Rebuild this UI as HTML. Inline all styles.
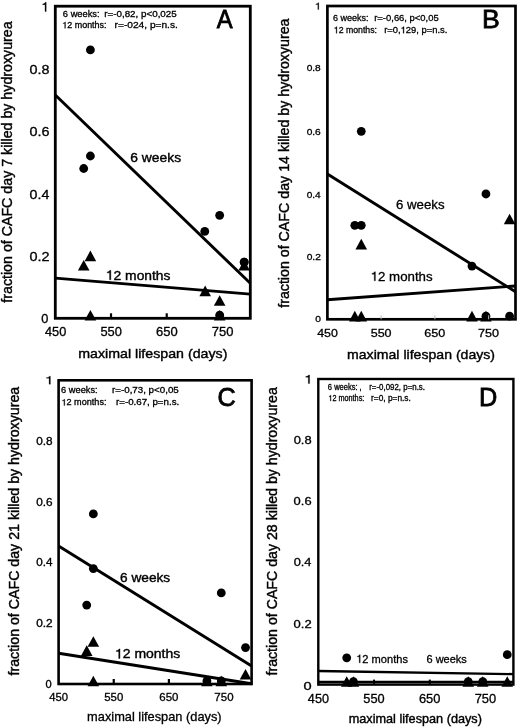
<!DOCTYPE html>
<html><head><meta charset="utf-8"><style>
html,body{margin:0;padding:0;background:#fff;}
svg{display:block;}
text{font-family:"Liberation Sans", sans-serif;fill:#000;stroke:#000;}
svg{filter:grayscale(1);}
</style></head><body>
<svg width="520" height="728" viewBox="0 0 520 728">
<rect width="520" height="728" fill="#fff"/>
<circle cx="90.40" cy="49.89" r="4.4"/>
<circle cx="90.40" cy="156.01" r="4.4"/>
<circle cx="83.71" cy="168.49" r="4.4"/>
<circle cx="204.78" cy="231.38" r="4.4"/>
<circle cx="219.66" cy="215.31" r="4.4"/>
<circle cx="244.17" cy="262.12" r="4.4"/>
<circle cx="219.66" cy="315.18" r="4.4"/>
<polygon points="84.60,261.18 96.20,261.18 90.40,250.58"/>
<polygon points="77.91,270.54 89.51,270.54 83.71,259.94"/>
<polygon points="84.60,320.48 96.20,320.48 90.40,309.88"/>
<polygon points="199.37,296.14 210.97,296.14 205.17,285.54"/>
<polygon points="213.86,305.81 225.46,305.81 219.66,295.21"/>
<polygon points="238.37,270.54 249.97,270.54 244.17,259.94"/>
<polygon points="213.86,320.48 225.46,320.48 219.66,309.88"/>
<circle cx="244.17" cy="262.12" r="4.4"/>
<line x1="55.30" y1="95.00" x2="250.30" y2="283.30" stroke="#000" stroke-width="2.9"/>
<line x1="55.30" y1="278.10" x2="250.30" y2="294.10" stroke="#000" stroke-width="2.9"/>
<rect x="55.30" y="6.20" width="195.00" height="312.10" fill="none" stroke="#000" stroke-width="2.8"/>
<line x1="111.01" y1="318.30" x2="111.01" y2="313.30" stroke="#000" stroke-width="2.2"/>
<line x1="166.73" y1="318.30" x2="166.73" y2="313.30" stroke="#000" stroke-width="2.2"/>
<line x1="222.44" y1="318.30" x2="222.44" y2="313.30" stroke="#000" stroke-width="2.2"/>
<text x="62.88" y="16.85" font-size="9.18" textLength="36.72" lengthAdjust="spacingAndGlyphs" stroke-width="0.3">6 weeks:</text>
<text x="104.20" y="16.85" font-size="9.18" textLength="72.56" lengthAdjust="spacingAndGlyphs" stroke-width="0.3">r=-0,82, p&lt;0,025</text>
<text x="62.27" y="28.35" font-size="9.18" textLength="44.30" lengthAdjust="spacingAndGlyphs" stroke-width="0.3"> 2 months:</text>
<path d="M271 0 L359 0 L359 703 L290 703 C276 640 222 590 101 580 L101 517 L271 517 Z" transform="translate(62.27,28.35) scale(0.00895,-0.00918)" stroke="#000" stroke-width="0.3" vector-effect="non-scaling-stroke"/>
<text x="114.57" y="28.35" font-size="9.18" textLength="63.30" lengthAdjust="spacingAndGlyphs" stroke-width="0.3">r=-024, p=n.s.</text>
<text x="216.85" y="28.40" font-size="25.89" textLength="15.89" lengthAdjust="spacingAndGlyphs" stroke-width="0.8">A</text>
<text x="130.30" y="161.90" font-size="13.44" textLength="50.80" lengthAdjust="spacingAndGlyphs" stroke-width="0.4">6 weeks</text>
<text x="105.85" y="279.80" font-size="13.44" textLength="64.66" lengthAdjust="spacingAndGlyphs" stroke-width="0.4"> 2 months</text>
<path d="M271 0 L359 0 L359 703 L290 703 C276 640 222 590 101 580 L101 517 L271 517 Z" transform="translate(105.85,279.80) scale(0.01385,-0.01344)" stroke="#000" stroke-width="0.4" vector-effect="non-scaling-stroke"/>
<path d="M271 0 L359 0 L359 703 L290 703 C276 640 222 590 101 580 L101 517 L271 517 Z" transform="translate(41.33,11.50) scale(0.01357,-0.01309)" stroke="#000" stroke-width="0.3" vector-effect="non-scaling-stroke"/>
<text x="29.59" y="73.57" font-size="12.58" textLength="19.99" lengthAdjust="spacingAndGlyphs" stroke-width="0.3">0.8</text>
<text x="29.59" y="135.99" font-size="12.58" textLength="19.99" lengthAdjust="spacingAndGlyphs" stroke-width="0.3">0.6</text>
<text x="29.59" y="199.11" font-size="12.58" textLength="19.77" lengthAdjust="spacingAndGlyphs" stroke-width="0.3">0.4</text>
<text x="29.59" y="260.83" font-size="12.58" textLength="20.09" lengthAdjust="spacingAndGlyphs" stroke-width="0.3">0.2</text>
<text x="41.35" y="323.15" font-size="12.58" textLength="7.10" lengthAdjust="spacingAndGlyphs" stroke-width="0.3">0</text>
<text x="44.96" y="336.15" font-size="12.58" textLength="21.29" lengthAdjust="spacingAndGlyphs" stroke-width="0.3">450</text>
<text x="100.45" y="336.15" font-size="12.58" textLength="21.52" lengthAdjust="spacingAndGlyphs" stroke-width="0.3">550</text>
<text x="156.02" y="336.15" font-size="12.58" textLength="21.67" lengthAdjust="spacingAndGlyphs" stroke-width="0.3">650</text>
<text x="211.73" y="336.15" font-size="12.58" textLength="21.67" lengthAdjust="spacingAndGlyphs" stroke-width="0.3">750</text>
<text x="78.26" y="358.30" font-size="13.64" textLength="149.12" lengthAdjust="spacingAndGlyphs" stroke-width="0.4">maximal lifespan (days)</text>
<text transform="translate(11.90,0) rotate(-90)" x="-302.70" y="0" font-size="14.2" textLength="281.30" lengthAdjust="spacingAndGlyphs" stroke-width="0.4">fraction of CAFC day 7 killed by hydroxyurea</text>
<circle cx="361.26" cy="131.32" r="4.4"/>
<circle cx="354.81" cy="225.31" r="4.4"/>
<circle cx="361.26" cy="225.31" r="4.4"/>
<circle cx="471.97" cy="266.04" r="4.4"/>
<circle cx="485.94" cy="193.98" r="4.4"/>
<circle cx="485.94" cy="316.17" r="4.4"/>
<circle cx="509.59" cy="316.17" r="4.4"/>
<polygon points="355.46,249.41 367.06,249.41 361.26,238.81"/>
<polygon points="349.01,321.47 360.61,321.47 354.81,310.87"/>
<polygon points="355.46,321.47 367.06,321.47 361.26,310.87"/>
<polygon points="466.17,321.47 477.77,321.47 471.97,310.87"/>
<polygon points="480.14,321.47 491.74,321.47 485.94,310.87"/>
<polygon points="503.79,224.34 515.39,224.34 509.59,213.74"/>
<line x1="327.40" y1="174.10" x2="515.50" y2="291.80" stroke="#000" stroke-width="2.9"/>
<line x1="327.40" y1="299.80" x2="515.50" y2="286.00" stroke="#000" stroke-width="2.9"/>
<rect x="327.40" y="6.00" width="188.10" height="313.30" fill="none" stroke="#000" stroke-width="2.7"/>
<line x1="381.14" y1="319.30" x2="381.14" y2="315.30" stroke="#bbb" stroke-width="1"/>
<line x1="434.89" y1="319.30" x2="434.89" y2="315.30" stroke="#bbb" stroke-width="1"/>
<line x1="488.63" y1="319.30" x2="488.63" y2="315.30" stroke="#bbb" stroke-width="1"/>
<text x="332.89" y="20.55" font-size="9.38" textLength="35.58" lengthAdjust="spacingAndGlyphs" stroke-width="0.3">6 weeks:</text>
<text x="374.22" y="20.55" font-size="9.38" textLength="64.52" lengthAdjust="spacingAndGlyphs" stroke-width="0.3">r=-0,66, p&lt;0,05</text>
<text x="333.78" y="33.25" font-size="9.38" textLength="43.26" lengthAdjust="spacingAndGlyphs" stroke-width="0.3"> 2 months:</text>
<path d="M271 0 L359 0 L359 703 L290 703 C276 640 222 590 101 580 L101 517 L271 517 Z" transform="translate(333.78,33.25) scale(0.00875,-0.00938)" stroke="#000" stroke-width="0.3" vector-effect="non-scaling-stroke"/>
<text x="384.23" y="33.25" font-size="9.38" textLength="63.08" lengthAdjust="spacingAndGlyphs" stroke-width="0.3">r=0, 29, p=n.s.</text>
<path d="M271 0 L359 0 L359 703 L290 703 C276 640 222 590 101 580 L101 517 L271 517 Z" transform="translate(400.65,33.25) scale(0.00938,-0.00938)" stroke="#000" stroke-width="0.3" vector-effect="non-scaling-stroke"/>
<text x="482.01" y="28.10" font-size="25.89" textLength="17.80" lengthAdjust="spacingAndGlyphs" stroke-width="0.8">B</text>
<text x="395.98" y="208.65" font-size="12.88" textLength="48.55" lengthAdjust="spacingAndGlyphs" stroke-width="0.3">6 weeks</text>
<text x="370.64" y="280.85" font-size="12.88" textLength="61.99" lengthAdjust="spacingAndGlyphs" stroke-width="0.3"> 2 months</text>
<path d="M271 0 L359 0 L359 703 L290 703 C276 640 222 590 101 580 L101 517 L271 517 Z" transform="translate(370.64,280.85) scale(0.01328,-0.01288)" stroke="#000" stroke-width="0.3" vector-effect="non-scaling-stroke"/>
<path d="M271 0 L359 0 L359 703 L290 703 C276 640 222 590 101 580 L101 517 L271 517 Z" transform="translate(314.63,9.60) scale(0.01163,-0.00982)" stroke="#000" stroke-width="0.2" vector-effect="non-scaling-stroke"/>
<text x="306.65" y="70.91" font-size="9.58" textLength="14.14" lengthAdjust="spacingAndGlyphs" stroke-width="0.3">0.8</text>
<text x="306.65" y="135.17" font-size="9.58" textLength="14.14" lengthAdjust="spacingAndGlyphs" stroke-width="0.3">0.6</text>
<text x="306.66" y="197.83" font-size="9.58" textLength="13.99" lengthAdjust="spacingAndGlyphs" stroke-width="0.3">0.4</text>
<text x="306.65" y="260.49" font-size="9.58" textLength="14.21" lengthAdjust="spacingAndGlyphs" stroke-width="0.3">0.2</text>
<text x="315.35" y="322.35" font-size="9.58" textLength="5.70" lengthAdjust="spacingAndGlyphs" stroke-width="0.3">0</text>
<text x="317.17" y="336.75" font-size="11.78" textLength="20.67" lengthAdjust="spacingAndGlyphs" stroke-width="0.3">450</text>
<text x="370.69" y="336.75" font-size="11.78" textLength="20.89" lengthAdjust="spacingAndGlyphs" stroke-width="0.3">550</text>
<text x="424.30" y="336.75" font-size="11.78" textLength="21.03" lengthAdjust="spacingAndGlyphs" stroke-width="0.3">650</text>
<text x="478.03" y="336.75" font-size="11.78" textLength="21.04" lengthAdjust="spacingAndGlyphs" stroke-width="0.3">750</text>
<text x="347.06" y="359.20" font-size="13.54" textLength="148.01" lengthAdjust="spacingAndGlyphs" stroke-width="0.4">maximal lifespan (days)</text>
<text transform="translate(289.00,0) rotate(-90)" x="-307.80" y="0" font-size="14.2" textLength="289.30" lengthAdjust="spacingAndGlyphs" stroke-width="0.4">fraction of CAFC day 14 killed by hydroxyurea</text>
<circle cx="93.34" cy="513.93" r="4.4"/>
<circle cx="93.34" cy="568.59" r="4.4"/>
<circle cx="86.72" cy="605.04" r="4.4"/>
<circle cx="221.27" cy="592.89" r="4.4"/>
<circle cx="245.53" cy="647.56" r="4.4"/>
<circle cx="206.93" cy="680.96" r="4.4"/>
<circle cx="221.27" cy="680.96" r="4.4"/>
<polygon points="87.54,646.78 99.14,646.78 93.34,636.18"/>
<polygon points="80.92,655.89 92.52,655.89 86.72,645.29"/>
<polygon points="87.54,686.26 99.14,686.26 93.34,675.66"/>
<polygon points="201.13,686.26 212.73,686.26 206.93,675.66"/>
<polygon points="215.47,686.26 227.07,686.26 221.27,675.66"/>
<polygon points="239.73,679.58 251.33,679.58 245.53,668.98"/>
<line x1="58.60" y1="545.90" x2="251.60" y2="665.90" stroke="#000" stroke-width="2.9"/>
<line x1="58.60" y1="653.20" x2="251.60" y2="683.70" stroke="#000" stroke-width="2.9"/>
<rect x="58.60" y="380.30" width="193.00" height="303.70" fill="none" stroke="#000" stroke-width="2.6"/>
<line x1="113.74" y1="684.00" x2="113.74" y2="679.00" stroke="#000" stroke-width="2.2"/>
<line x1="168.89" y1="684.00" x2="168.89" y2="679.00" stroke="#000" stroke-width="2.2"/>
<line x1="224.03" y1="684.00" x2="224.03" y2="679.00" stroke="#000" stroke-width="2.2"/>
<text x="61.08" y="393.35" font-size="8.88" textLength="36.62" lengthAdjust="spacingAndGlyphs" stroke-width="0.3">6 weeks:</text>
<text x="112.00" y="393.35" font-size="8.88" textLength="66.76" lengthAdjust="spacingAndGlyphs" stroke-width="0.3">r=-0,73, p&lt;0,05</text>
<text x="61.46" y="405.45" font-size="8.88" textLength="45.02" lengthAdjust="spacingAndGlyphs" stroke-width="0.3"> 2 months:</text>
<path d="M271 0 L359 0 L359 703 L290 703 C276 640 222 590 101 580 L101 517 L271 517 Z" transform="translate(61.46,405.45) scale(0.00910,-0.00888)" stroke="#000" stroke-width="0.3" vector-effect="non-scaling-stroke"/>
<text x="116.00" y="405.45" font-size="8.88" textLength="63.23" lengthAdjust="spacingAndGlyphs" stroke-width="0.3">r=-0.67, p=n.s.</text>
<text x="217.42" y="405.50" font-size="25.89" textLength="18.25" lengthAdjust="spacingAndGlyphs" stroke-width="0.8">C</text>
<text x="120.01" y="581.60" font-size="13.44" textLength="50.19" lengthAdjust="spacingAndGlyphs" stroke-width="0.4">6 weeks</text>
<text x="114.93" y="658.40" font-size="13.44" textLength="65.37" lengthAdjust="spacingAndGlyphs" stroke-width="0.4"> 2 months</text>
<path d="M271 0 L359 0 L359 703 L290 703 C276 640 222 590 101 580 L101 517 L271 517 Z" transform="translate(114.93,658.40) scale(0.01400,-0.01344)" stroke="#000" stroke-width="0.4" vector-effect="non-scaling-stroke"/>
<path d="M271 0 L359 0 L359 703 L290 703 C276 640 222 590 101 580 L101 517 L271 517 Z" transform="translate(44.97,384.20) scale(0.01512,-0.01138)" stroke="#000" stroke-width="0.25" vector-effect="non-scaling-stroke"/>
<text x="36.19" y="444.89" font-size="10.08" textLength="16.37" lengthAdjust="spacingAndGlyphs" stroke-width="0.3">0.8</text>
<text x="36.19" y="505.63" font-size="10.08" textLength="16.38" lengthAdjust="spacingAndGlyphs" stroke-width="0.3">0.6</text>
<text x="36.19" y="566.37" font-size="10.08" textLength="16.20" lengthAdjust="spacingAndGlyphs" stroke-width="0.3">0.4</text>
<text x="36.19" y="627.11" font-size="10.08" textLength="16.46" lengthAdjust="spacingAndGlyphs" stroke-width="0.3">0.2</text>
<text x="45.52" y="688.15" font-size="10.08" textLength="6.17" lengthAdjust="spacingAndGlyphs" stroke-width="0.3">0</text>
<text x="49.29" y="700.65" font-size="11.08" textLength="18.80" lengthAdjust="spacingAndGlyphs" stroke-width="0.3">450</text>
<text x="104.24" y="700.65" font-size="11.08" textLength="19.00" lengthAdjust="spacingAndGlyphs" stroke-width="0.3">550</text>
<text x="159.25" y="700.65" font-size="11.08" textLength="19.13" lengthAdjust="spacingAndGlyphs" stroke-width="0.3">650</text>
<text x="214.39" y="700.65" font-size="11.08" textLength="19.14" lengthAdjust="spacingAndGlyphs" stroke-width="0.3">750</text>
<text x="87.10" y="721.05" font-size="12.78" textLength="134.54" lengthAdjust="spacingAndGlyphs" stroke-width="0.3">maximal lifespan (days)</text>
<text transform="translate(19.00,0) rotate(-90)" x="-675.50" y="0" font-size="14.2" textLength="288.70" lengthAdjust="spacingAndGlyphs" stroke-width="0.4">fraction of CAFC day 21 killed by hydroxyurea</text>
<circle cx="346.73" cy="657.86" r="4.4"/>
<circle cx="507.27" cy="654.65" r="4.4"/>
<circle cx="353.42" cy="681.54" r="4.4"/>
<circle cx="468.25" cy="681.54" r="4.4"/>
<circle cx="482.74" cy="681.54" r="4.4"/>
<polygon points="340.93,686.84 352.53,686.84 346.73,676.24"/>
<polygon points="347.62,686.84 359.22,686.84 353.42,676.24"/>
<polygon points="462.45,686.84 474.05,686.84 468.25,676.24"/>
<polygon points="476.94,686.84 488.54,686.84 482.74,676.24"/>
<polygon points="501.47,686.84 513.07,686.84 507.27,676.24"/>
<line x1="318.30" y1="671.00" x2="513.40" y2="674.10" stroke="#000" stroke-width="2.3"/>
<line x1="318.30" y1="681.90" x2="513.40" y2="682.10" stroke="#000" stroke-width="2.5"/>
<rect x="318.30" y="379.00" width="195.10" height="305.60" fill="none" stroke="#000" stroke-width="2.4"/>
<line x1="374.04" y1="684.60" x2="374.04" y2="679.60" stroke="#000" stroke-width="2.0"/>
<line x1="429.79" y1="684.60" x2="429.79" y2="679.60" stroke="#000" stroke-width="2.0"/>
<line x1="485.53" y1="684.60" x2="485.53" y2="679.60" stroke="#000" stroke-width="2.0"/>
<text x="327.87" y="390.45" font-size="8.28" textLength="33.86" lengthAdjust="spacingAndGlyphs" stroke-width="0.3">6 weeks: ,</text>
<text x="369.23" y="390.45" font-size="8.28" textLength="55.75" lengthAdjust="spacingAndGlyphs" stroke-width="0.3">r=-0,092, p=n.s.</text>
<text x="328.40" y="401.05" font-size="8.28" textLength="35.92" lengthAdjust="spacingAndGlyphs" stroke-width="0.3"> 2 months:</text>
<path d="M271 0 L359 0 L359 703 L290 703 C276 640 222 590 101 580 L101 517 L271 517 Z" transform="translate(328.40,401.05) scale(0.00726,-0.00828)" stroke="#000" stroke-width="0.3" vector-effect="non-scaling-stroke"/>
<text x="371.10" y="401.05" font-size="8.28" textLength="39.71" lengthAdjust="spacingAndGlyphs" stroke-width="0.3">r=0, p=n.s.</text>
<text x="478.92" y="405.70" font-size="25.89" textLength="18.29" lengthAdjust="spacingAndGlyphs" stroke-width="0.8">D</text>
<text x="426.49" y="663.15" font-size="11.58" textLength="40.36" lengthAdjust="spacingAndGlyphs" stroke-width="0.3">6 weeks</text>
<text x="356.21" y="662.85" font-size="11.58" textLength="51.74" lengthAdjust="spacingAndGlyphs" stroke-width="0.3"> 2 months</text>
<path d="M271 0 L359 0 L359 703 L290 703 C276 640 222 590 101 580 L101 517 L271 517 Z" transform="translate(356.21,662.85) scale(0.01108,-0.01158)" stroke="#000" stroke-width="0.3" vector-effect="non-scaling-stroke"/>
<path d="M271 0 L359 0 L359 703 L290 703 C276 640 222 590 101 580 L101 517 L271 517 Z" transform="translate(304.31,383.50) scale(0.01473,-0.01209)" stroke="#000" stroke-width="0.3" vector-effect="non-scaling-stroke"/>
<text x="293.65" y="444.17" font-size="10.88" textLength="17.97" lengthAdjust="spacingAndGlyphs" stroke-width="0.3">0.8</text>
<text x="293.64" y="505.29" font-size="10.88" textLength="17.97" lengthAdjust="spacingAndGlyphs" stroke-width="0.3">0.6</text>
<text x="293.65" y="566.41" font-size="10.88" textLength="17.77" lengthAdjust="spacingAndGlyphs" stroke-width="0.3">0.4</text>
<text x="293.64" y="627.53" font-size="10.88" textLength="18.06" lengthAdjust="spacingAndGlyphs" stroke-width="0.3">0.2</text>
<text x="303.58" y="689.85" font-size="10.88" textLength="8.14" lengthAdjust="spacingAndGlyphs" stroke-width="0.3">0</text>
<text x="307.86" y="702.55" font-size="12.28" textLength="21.08" lengthAdjust="spacingAndGlyphs" stroke-width="0.3">450</text>
<text x="363.38" y="702.55" font-size="12.28" textLength="21.31" lengthAdjust="spacingAndGlyphs" stroke-width="0.3">550</text>
<text x="418.98" y="702.55" font-size="12.28" textLength="21.46" lengthAdjust="spacingAndGlyphs" stroke-width="0.3">650</text>
<text x="474.72" y="702.55" font-size="12.28" textLength="21.46" lengthAdjust="spacingAndGlyphs" stroke-width="0.3">750</text>
<text x="348.76" y="723.40" font-size="12.94" textLength="133.13" lengthAdjust="spacingAndGlyphs" stroke-width="0.4">maximal lifespan (days)</text>
<text transform="translate(276.50,0) rotate(-90)" x="-675.50" y="0" font-size="14.2" textLength="288.30" lengthAdjust="spacingAndGlyphs" stroke-width="0.4">fraction of CAFC day 28 killed by hydroxyurea</text>
</svg>
</body></html>
